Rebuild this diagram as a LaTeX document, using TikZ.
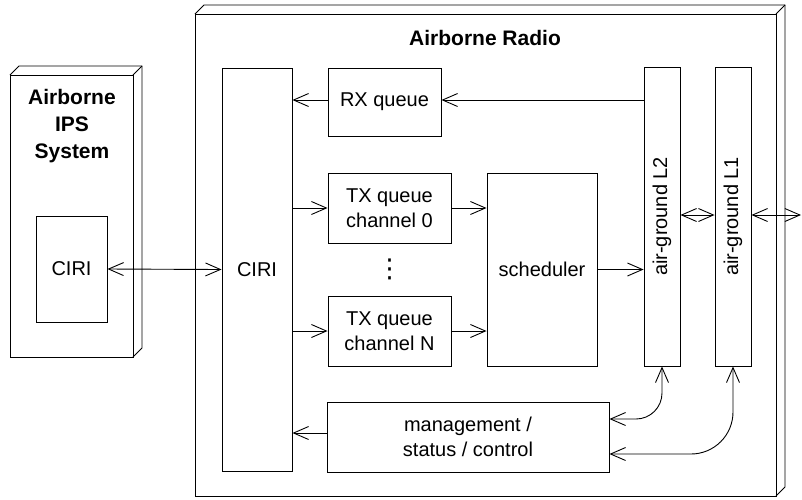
\documentclass[tikz,border=0pt]{standalone}
\usepackage{fontspec}
\setmainfont{Liberation Sans}
\newfontfamily\dejavu{DejaVu Sans}
\usetikzlibrary{arrows.meta}
\begin{document}
\begin{tikzpicture}[x=1pt,y=-1pt,line width=0.9pt,
  box/.style={draw,inner sep=0pt,align=center,font=\fontsize{20}{25}\selectfont},
  ttl/.style={font=\fontsize{21}{27}\selectfont\bfseries,align=center,inner sep=0pt},
  vtxt/.style={rotate=90,font=\fontsize{20}{25}\selectfont,inner sep=0pt},
  tip/.tip={Straight Barb[length=15pt,width=13pt,line width=0.9pt]},
  arr/.style={-tip},
  biarr/.style={tip-tip}]
\useasboundingbox (0,0) rectangle (802,499);
% 3D boxes
\draw (10,75) rectangle (133,357);
\draw (10,75) -- (19,66) -- (142,66) -- (142,348) -- (133,357);
\draw (133,75) -- (142,66);
\draw (195,14) rectangle (776,496);
\draw (195,14) -- (204,5) -- (785,5) -- (785,487) -- (776,496);
\draw (776,14) -- (785,5);
% titles
\node[ttl] (ipsT) at (72,126) {Airborne\\IPS\\System};
\node[ttl] (radT) at (485,38) {Airborne Radio};
% nodes
\node[box,minimum width=71pt,minimum height=106pt] (ciri1) at (71.5,269) {CIRI};
\node[box,minimum width=70pt,minimum height=403pt] (ciri2) at (257,269.5) {CIRI};
\node[box,minimum width=113pt,minimum height=68pt] (rx) at (384.5,102) {RX queue};
\node[box,minimum width=123pt,minimum height=70pt] (tx0) at (389.5,208) {TX queue\\channel 0};
\node[box,minimum width=123pt,minimum height=70pt] (txn) at (389.5,331) {TX queue\\channel N};
\node[inner sep=0pt,font=\dejavu\fontsize{26}{30}\selectfont] (dots) at (389.5,269) {⋮};
\node[box,minimum width=110pt,minimum height=193pt] (sch) at (542,269.5) {scheduler};
\node[box,minimum width=36pt,minimum height=299pt] (L2) at (662,216.5) {};
\node[box,minimum width=36pt,minimum height=299pt] (L1) at (733,216.5) {};
\node[vtxt] (L2t) at (L2.center) {air-ground L2};
\node[vtxt] (L1t) at (L1.center) {air-ground L1};
\node[box,minimum width=282pt,minimum height=70pt] (mg) at (468,437) {management /\\status / control};
\coordinate (ext) at (801,215);
% connectors
\draw[biarr] (ciri1.east) -- (ciri2.west);
\draw[arr] (L2.west |- 0,100) -- (rx.east |- 0,100);
\draw[arr] (rx.west |- 0,100) -- (ciri2.east |- 0,100);
\draw[arr] (ciri2.east |- tx0.west) -- (tx0.west);
\draw[arr] (ciri2.east |- txn.west) -- (txn.west);
\draw[arr] (tx0.east) -- (sch.west |- tx0.east);
\draw[arr] (txn.east) -- (sch.west |- txn.east);
\draw[arr] (sch.east) -- (L2.west |- sch.east);
\draw[biarr] (L2.east |- 0,215) -- (L1.west |- 0,215);
\draw[biarr] (L1.east |- ext) -- (ext);
\draw[arr] (mg.west |- 0,433) -- (ciri2.east |- 0,433);
\draw[biarr,rounded corners=26pt] (L2.south) |- ([yshift=18pt]mg.east);
\draw[biarr,rounded corners=42pt] (L1.south) |- ([yshift=-17pt]mg.east);
\end{tikzpicture}
\end{document}
